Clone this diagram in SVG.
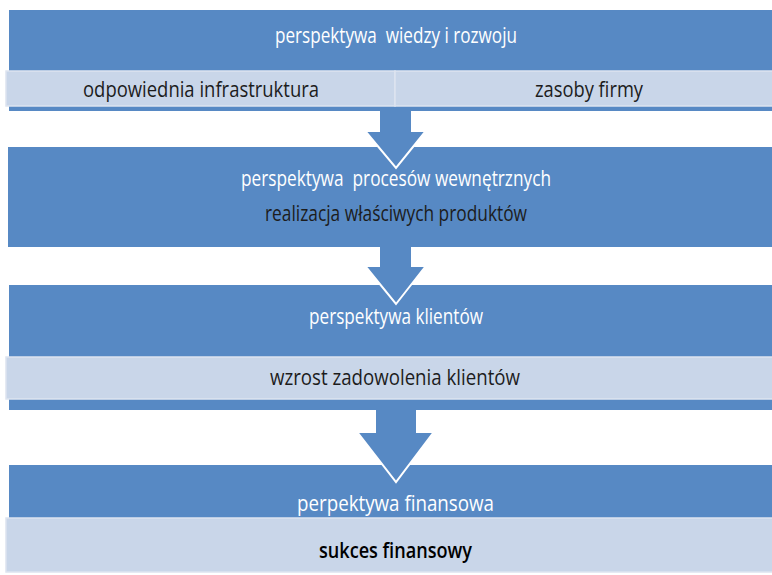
<svg xmlns="http://www.w3.org/2000/svg" width="772" height="575" viewBox="0 0 772 575">
  <style>
    .band { fill: #5789c4; }
    .bar { fill: #c9d6e9; stroke: #dde4ef; stroke-width: 1.5; }
    .arrow { fill: #5789c4; }
    .edge { fill: none; stroke: #ffffff; stroke-width: 2; stroke-linejoin: miter; }
    text { font-family: "Open Sans", "Liberation Sans", sans-serif; font-size: 21px; }
    .head { fill: #ffffff; }
    .sub { fill: #1c1c1c; }
    .strong { fill: #000000; font-weight: 600; }
  </style>
  <rect width="772" height="575" fill="#ffffff"/>

  <!-- learning and growth -->
  <g id="node-wiedza">
    <rect class="band" x="9" y="10" width="765" height="101"/>
    <text class="head" x="275" y="43" textLength="242" lengthAdjust="spacingAndGlyphs" xml:space="preserve">perspektywa  wiedzy i rozwoju</text>
    <rect class="bar" x="6" y="71" width="389" height="35"/>
    <rect class="bar" x="395" y="71" width="380" height="35"/>
    <text class="sub" x="83" y="97" textLength="236" lengthAdjust="spacingAndGlyphs">odpowiednia infrastruktura</text>
    <text class="sub" x="535" y="97" textLength="108" lengthAdjust="spacingAndGlyphs">zasoby firmy</text>
  </g>

  <!-- internal processes -->
  <g id="node-procesy">
    <rect class="band" x="8" y="147" width="766" height="100"/>
    <text class="head" x="241" y="186" textLength="310" lengthAdjust="spacingAndGlyphs" xml:space="preserve">perspektywa  procesów wewnętrznych</text>
    <text class="sub" x="265" y="221" textLength="262" lengthAdjust="spacingAndGlyphs">realizacja właściwych produktów</text>
  </g>

  <!-- customers -->
  <g id="node-klienci">
    <rect class="band" x="9" y="285" width="765" height="125"/>
    <text class="head" x="309" y="324" textLength="174" lengthAdjust="spacingAndGlyphs">perspektywa klientów</text>
    <rect class="bar" x="6" y="357" width="769" height="42"/>
    <text class="sub" x="270" y="385" textLength="250" lengthAdjust="spacingAndGlyphs">wzrost zadowolenia klientów</text>
  </g>

  <!-- financial -->
  <g id="node-finanse">
    <rect class="band" x="9" y="465" width="765" height="60"/>
    <text class="head" x="297" y="511" textLength="197" lengthAdjust="spacingAndGlyphs">perpektywa finansowa</text>
    <rect class="bar" x="6" y="518" width="769" height="54"/>
    <text class="strong" x="319" y="558" textLength="153" lengthAdjust="spacingAndGlyphs">sukces finansowy</text>
  </g>

  <!-- block arrows between levels: fill plus a white rim on the head -->
  <g id="connectors">
    <polygon class="arrow" points="380,110 411,110 411,132 425,132 396,168 366,132 380,132"/>
    <polyline class="edge" points="425,132 396,168 366,132"/>
    <polygon class="arrow" points="380,246 411,246 411,267 425,267 396,304 366,267 380,267"/>
    <polyline class="edge" points="425,267 396,304 366,267"/>
    <polygon class="arrow" points="376,409 416,409 416,433 433,433 396,482 358,433 376,433"/>
    <polyline class="edge" points="433,433 396,482 358,433"/>
  </g>
</svg>
